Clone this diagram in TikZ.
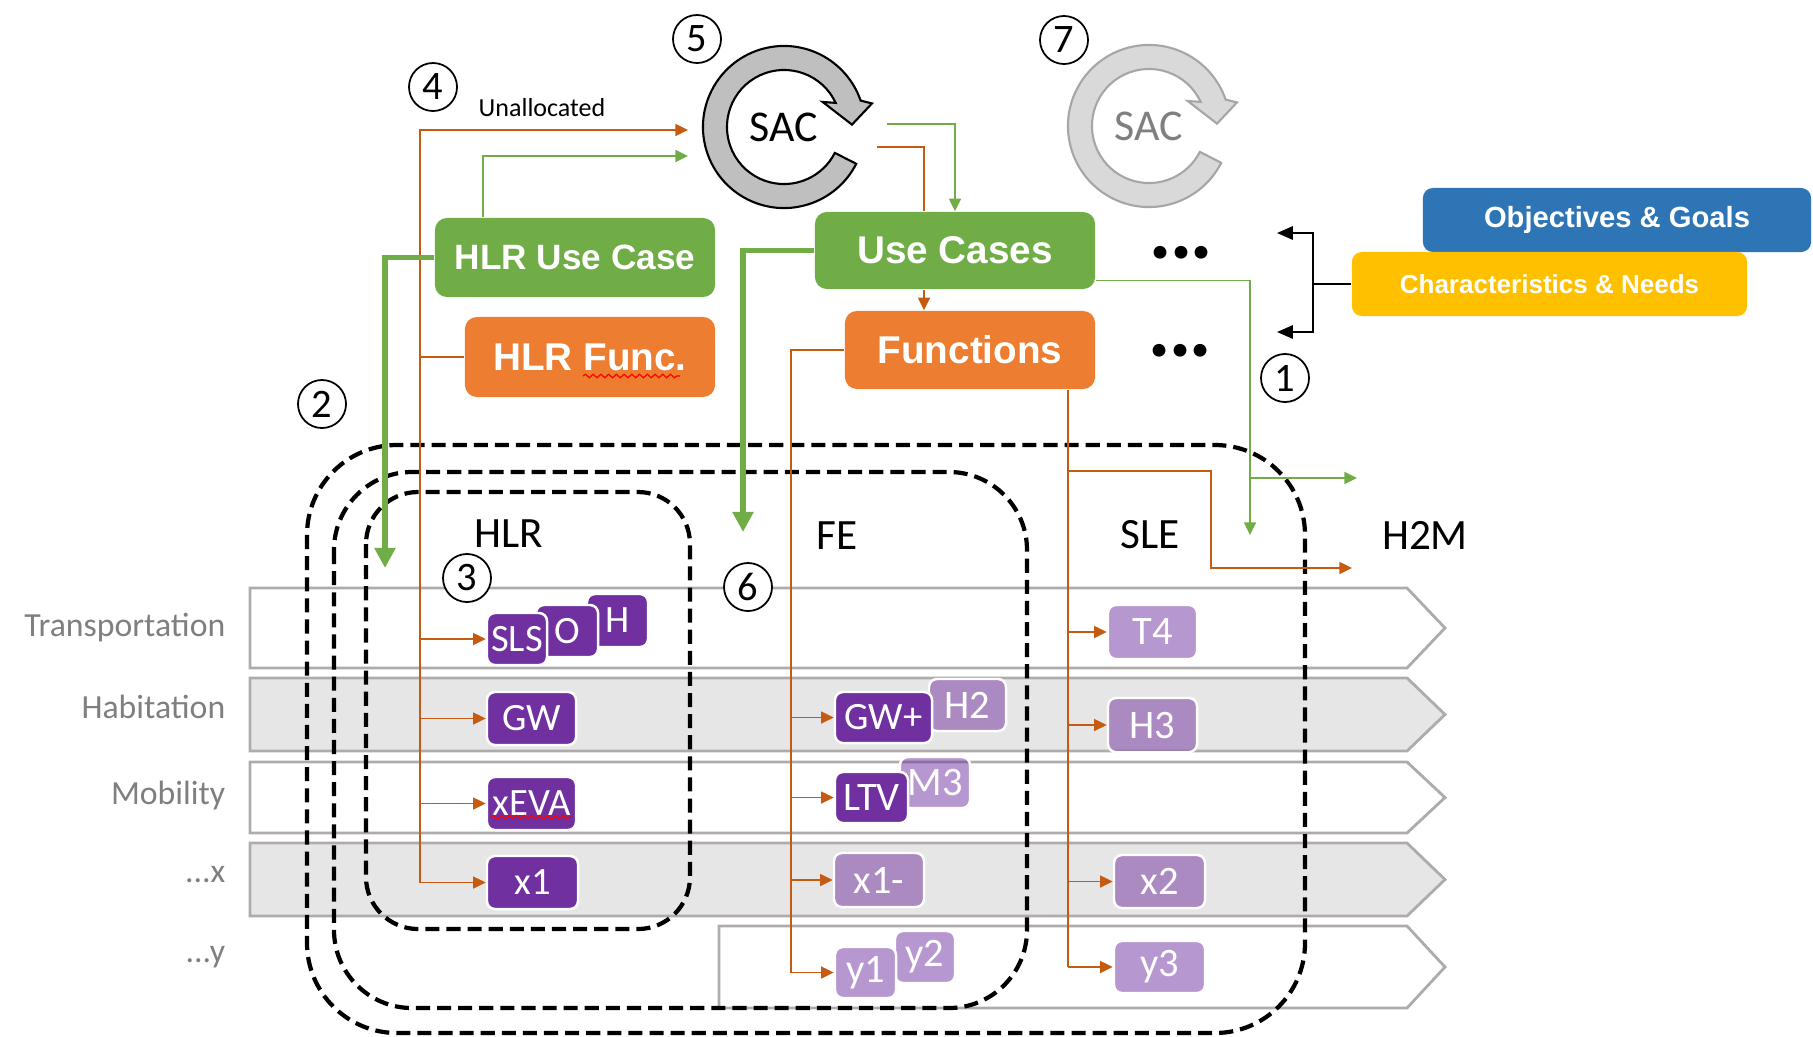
\documentclass[tikz,border=0pt]{standalone}
\usepackage{fontspec}
\setmainfont{Carlito}
\newfontfamily\arialf{Liberation Sans}
\newfontfamily\latof{Lato}
\usetikzlibrary{arrows.meta,decorations.pathmorphing}
\definecolor{cgreen}{HTML}{70AD47}
\definecolor{corange}{HTML}{ED7D31}
\definecolor{cline}{HTML}{C55A11}
\definecolor{cblue}{HTML}{2E75B6}
\definecolor{cyellow}{HTML}{FFC000}
\definecolor{cpurple}{HTML}{7030A0}
\definecolor{crow}{HTML}{E7E6E6}
\definecolor{crowline}{HTML}{AFABAB}
\definecolor{clabel}{HTML}{7F7F7F}

% circular SAC arrow: centre, fill, outline
\newcommand{\sacloop}[3]{%
  \draw[draw=#3,fill=#2,line width=0.6pt,shift={#1}]
    (-27:0.57cm) -- (-27:0.81cm) arc[start angle=-27,end angle=-341,radius=0.81cm]
    -- (15:0.91cm) -- (2:0.68cm) -- (33:0.46cm) -- (25:0.57cm)
    arc[start angle=25,end angle=333,radius=0.57cm] -- cycle;}

\begin{document}
\begin{tikzpicture}[
  x=0.01cm,y=-0.01cm,
  box/.style={rounded corners=0.12cm,text=white,inner sep=0pt,
              font=\arialf\bfseries\fontsize{11}{13}\selectfont},
  gbox/.style={box,fill=cgreen},
  obox/.style={box,fill=corange},
  pd/.style={rounded corners=0.08cm,draw=white,line width=0.7pt,fill=cpurple,
             text=white,inner sep=0pt,font=\fontsize{11}{13}\selectfont},
  pl/.style={pd,fill opacity=0.5,text opacity=1,font=\fontsize{11.5}{13}\selectfont},
  row/.style={draw=crowline,line width=0.8pt},
  lab/.style={anchor=east,inner sep=0pt,text=clabel,font=\fontsize{9.6}{11}\selectfont},
  col/.style={font=\fontsize{12.3}{14}\selectfont},
  num/.style={circle,draw,fill=white,line width=0.5pt,minimum size=0.48cm,
              inner sep=0pt,font=\fontsize{11.5}{13}\selectfont},
  sac/.style={font=\fontsize{12.5}{14}\selectfont},
  zone/.style={dash pattern=on 4pt off 2pt,line width=1.2pt},
  ol/.style={draw=cline,line width=0.45pt},
  oa/.style={ol,-{Triangle[length=3.6pt,width=3.4pt]}},
  gl/.style={draw=cgreen,line width=0.45pt},
  ga/.style={gl,-{Triangle[length=3.6pt,width=3.4pt]}},
  gt/.style={draw=cgreen,line width=1.7pt,-{Triangle[length=5.7pt,width=5.7pt]}},
  ba/.style={line width=0.5pt,-{Triangle[length=4.5pt,width=3.8pt]}},
  dots/.style={font=\latof\bfseries\fontsize{24}{26}\selectfont,inner sep=0pt},
  spell/.style={draw=red,line width=0.35pt,decorate,
                decoration={snake,amplitude=0.5pt,segment length=2.2pt}}]

\useasboundingbox (0,0) rectangle (1813,1036);

% domain rows
\foreach \t/\b/\f/\l in {588/668/white/250,678/751/crow/250,762/833/white/250,
                          843/916/crow/250,926/1008/white/719}
  \draw[row,fill=\f] (\l,\t) -- (1407,\t) -- (1445,{(\t+\b)/2}) -- (1407,\b) -- (\l,\b) -- cycle;
\node[lab] (lt) at (226,628) {Transportation};
\node[lab] (lh) at (226,707) {Habitation};
\node[lab] (lm) at (226,795) {Mobility};
\node[lab] (lx) at (226,875) {...x};
\node[lab] (ly) at (226,957) {...y};

\draw[zone,rounded corners=0.9cm] (307,445) rectangle (1305,1033);
\draw[zone,rounded corners=0.78cm] (334,472) rectangle (1027,1008);
\draw[zone,rounded corners=0.52cm] (366,492) rectangle (690,929);

\node[col] (chlr) at (509,534) {HLR};
\node[col] (cfe)  at (837,536) {FE};
\node[col] (csle) at (1150,535) {SLE};
\node[col] (ch2m) at (1425,535) {H2M};

% SAC loops
\sacloop{(784,127)}{black!25}{black}
\node[sac] (sac1) at (784,127) {SAC};
\sacloop{(1149,126)}{black!15}{black!35}
\node[sac,text=clabel] (sac2) at (1149,126) {SAC};

% use case / function boxes
\node[gbox,minimum width=2.8cm,minimum height=0.79cm,font=\arialf\bfseries\fontsize{10}{12}\selectfont]
  (hlruc) at (575,257.5) {HLR Use Case};
\node[obox,minimum width=2.5cm,minimum height=0.8cm] (hlrfn) at (590,357) {HLR Func.};
\node[gbox,minimum width=2.8cm,minimum height=0.77cm] (uc) at (955,250.5) {Use Cases};
\node[obox,minimum width=2.5cm,minimum height=0.78cm] (fn) at (970,350) {Functions};
\node[dots] (d1) at (1181,253) {...};
\node[dots] (d2) at (1180,351) {...};

\node[box,fill=cblue,rounded corners=0.1cm,minimum width=3.88cm,minimum height=0.64cm,
      font=\arialf\bfseries\fontsize{8.3}{10}\selectfont] (og) at (1617,220) {Objectives \& Goals};
\node[box,fill=cyellow,rounded corners=0.1cm,minimum width=3.95cm,minimum height=0.64cm,
      font=\arialf\bfseries\fontsize{7.4}{9}\selectfont] (cn) at (1549.5,284) {Characteristics \& Needs};

% elements per row
\node[pd,minimum width=0.61cm,minimum height=0.53cm] (hh)  at (617.5,620.5) {H};
\node[pd,minimum width=0.62cm,minimum height=0.52cm] (oo)  at (567,631) {O};
\node[pd,minimum width=0.60cm,minimum height=0.52cm] (sls) at (517,639) {SLS};
\node[pd,minimum width=0.89cm,minimum height=0.53cm] (gw)  at (531.5,718.5) {GW};
\node[pd,minimum width=0.89cm,minimum height=0.53cm] (xeva) at (531.5,803.5) {xEVA};
\node[pd,minimum width=0.91cm,minimum height=0.53cm] (x1)  at (532.5,882.5) {x1};

\node[pl,minimum width=0.77cm,minimum height=0.52cm] (h2)  at (967.5,705) {H2};
\node[pd,minimum width=0.97cm,minimum height=0.51cm] (gwp) at (883.5,717.5) {GW+};
\node[pl,minimum width=0.70cm,minimum height=0.51cm] (m3)  at (935,782.5) {M3};
\node[pd,minimum width=0.73cm,minimum height=0.51cm,font=\fontsize{11.5}{13}\selectfont] (ltv) at (871.5,797.5) {LTV};
\node[pl,minimum width=0.90cm,minimum height=0.54cm] (x1m) at (879,880) {x1-};
\node[pl,minimum width=0.60cm,minimum height=0.52cm] (y2)  at (925,957) {y2};
\node[pl,minimum width=0.61cm,minimum height=0.51cm] (y1)  at (865.5,972.5) {y1};

\node[pl,minimum width=0.89cm,minimum height=0.54cm] (t4) at (1152.5,632) {T4};
\node[pl,minimum width=0.89cm,minimum height=0.54cm] (h3) at (1152.5,725) {H3};
\node[pl,minimum width=0.91cm,minimum height=0.53cm] (x2) at (1159.5,881.5) {x2};
\node[pl,minimum width=0.91cm,minimum height=0.52cm] (y3) at (1159.5,967) {y3};

\draw[spell] (583,376) -- (680,376);
\draw[spell] (491,817) -- (571,817);

% numbered steps
\node[num] (n1) at (1285,378) {1};
\node[num] (n2) at (322,404) {2};
\node[num] (n3) at (467,578) {3};
\node[num] (n4) at (433,87) {4};
\node[num] (n5) at (697,39) {5};
\node[num] (n6) at (748,587) {6};
\node[num] (n7) at (1064,40) {7};
\node[font=\fontsize{7.4}{9}\selectfont] (unl) at (542,108) {Unallocated};

\coordinate (hbus) at (420,130);
\coordinate (unal) at (688,130);
\coordinate (alloc) at (688,156);
\coordinate (fbus) at (791,351);
\coordinate (sbus) at (1068,389);
\coordinate (s1g) at (887,124);
\coordinate (s1o) at (877,147);
\coordinate (ucfn) at (924,0);
\coordinate (hlrin) at (385,568);
\coordinate (fein) at (743,532);
\coordinate (slein) at (1250,535);
\coordinate (h2mg) at (1357,478);
\coordinate (sleturn) at (1211,471);
\coordinate (h2mo) at (1352,568);
\coordinate (bj) at (1313,284);
\coordinate (ba1) at (1277,233);
\coordinate (ba2) at (1277,332);

% HLR allocation
\draw[ol] (hlrfn.west) -- (hlrfn.west -| hbus);
\draw[oa] (hbus |- x1.west) -- (hbus) -- (unal);
\foreach \b in {sls,gw,xeva,x1} \draw[oa] (hbus |- \b.west) -- (\b.west);
\draw[ga] ([xshift=-0.92cm]hlruc.north) |- (alloc);
\draw[gt] (hlruc.west) -| (hlrin);

% SAC to use cases and functions
\draw[ga] (s1g) -| (uc.north);
\draw[ol] (s1o) -| (uc.north -| ucfn);
\draw[oa] (uc.south -| ucfn) -- (fn.north -| ucfn);
\draw[gt] (uc.west) -| (fein);

% FE and SLE allocation
\draw[ol] (fn.west) -| (fbus |- y1.west);
\foreach \b in {gwp,ltv,x1m,y1} \draw[oa] (fbus |- \b.west) -- (\b.west);
\draw[ol] (fn.south -| sbus) -- (sbus |- y3.west);
\foreach \b in {t4,h3,x2,y3} \draw[oa] (sbus |- \b.west) -- (\b.west);
\draw[oa] (sbus |- sleturn) -- (sleturn) |- (h2mo);
\draw[ga] ([yshift=-0.3cm]uc.east) -| (slein);
\draw[ga] (slein |- h2mg) -- (h2mg);

% objectives feed
\draw[line width=0.5pt] (cn.west) -- (bj);
\draw[ba] (bj) |- (ba1);
\draw[ba] (bj) |- (ba2);
\end{tikzpicture}
\end{document}
